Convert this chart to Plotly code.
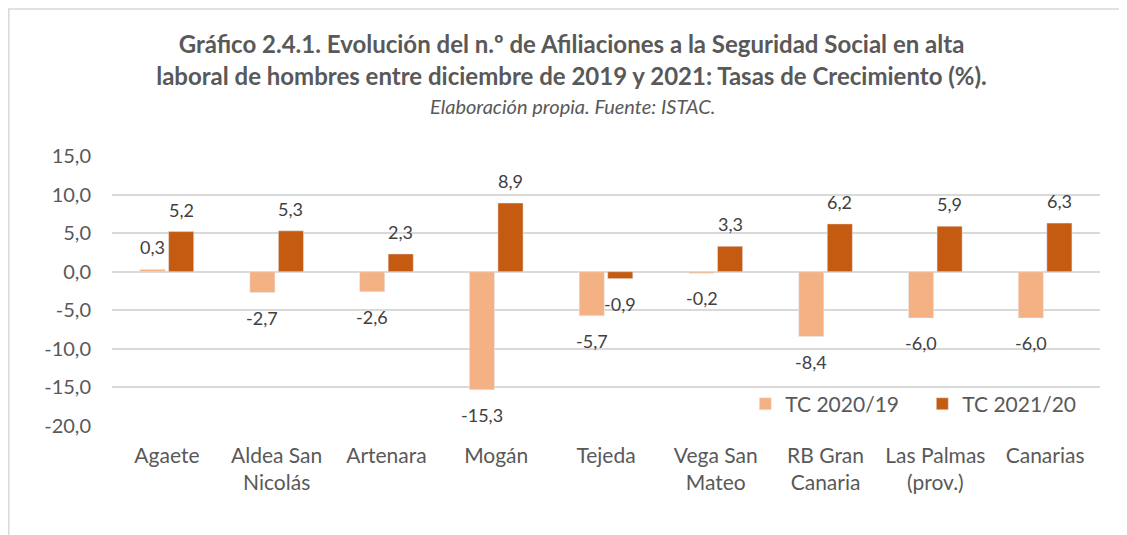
import plotly.graph_objects as go

# ---- DATA ----
municipios = ["Agaete", "Aldea San<br>Nicolás", "Artenara", "Mogán", "Tejeda",
              "Vega San<br>Mateo", "RB Gran<br>Canaria", "Las Palmas<br>(prov.)", "Canarias"]
tc_2020_19 = [0.3, -2.7, -2.6, -15.3, -5.7, -0.2, -8.4, -6.0, -6.0]
tc_2021_20 = [5.2, 5.3, 2.3, 8.9, -0.9, 3.3, 6.2, 5.9, 6.3]
y_ticks = [15, 10, 5, 0, -5, -10, -15, -20]

LIGHT = "#F4B183"
DARK = "#C55A11"
GREY = "#595959"
FONT = "Lato"

# ---- LAYOUT CONSTANTS ----
W, H = 1127, 535
L, R, T, B = 104, 35, 148, 117
BARGAP, GROUPGAP = 0.48, 0.12
plot_w = W - L - R
slot = plot_w / len(municipios) * (1 - BARGAP) / 2   # width of one bar slot (px)


def fmt(v):
    # Spanish decimal comma, plain hyphen for negatives (as in Excel)
    return f"{v:.1f}".replace(".", ",")


fig = go.Figure()
for vals, name, color in [(tc_2020_19, "TC 2020/19", LIGHT), (tc_2021_20, "TC 2021/20", DARK)]:
    fig.add_trace(go.Bar(x=municipios, y=vals, name=name, marker=dict(color=color)))

# Data labels placed a little away from the bar ends, like Excel does
labels = []
for vals, side in [(tc_2020_19, -1), (tc_2021_20, 1)]:
    for cat, v in zip(municipios, vals):
        labels.append(dict(
            x=cat, y=v, text=fmt(v), showarrow=False,
            xshift=side * slot / 2, yshift=22 if v >= 0 else -25,
            xanchor="center", yanchor="middle",
            font=dict(size=18, color="#404040", family=FONT),
        ))

labels.append(dict(
    text="<i>Elaboración propia. Fuente: ISTAC.</i>",
    xref="paper", yref="paper", x=0.466, y=1.186,
    xanchor="center", yanchor="middle", showarrow=False,
    font=dict(size=20, color=GREY, family=FONT),
))

fig.update_layout(
    width=W, height=H,
    margin=dict(l=L, r=R, t=T, b=B, autoexpand=False),
    paper_bgcolor="white", plot_bgcolor="white",
    barmode="group", bargap=BARGAP, bargroupgap=GROUPGAP,
    font=dict(family=FONT, color=GREY),
    title=dict(
        text="<b>Gráfico 2.4.1. Evolución del n.º de Afiliaciones a la Seguridad Social en alta<br>"
             "laboral de hombres entre diciembre de 2019 y 2021: Tasas de Crecimiento (%).</b>",
        x=0.5, xanchor="center", xref="container",
        y=0.915, yanchor="middle", yref="container",
        font=dict(size=24, color=GREY, family=FONT),
    ),
    annotations=labels,
    legend=dict(
        orientation="h", x=0.641, y=0.081, xanchor="left", yanchor="middle",
        font=dict(size=21, color=GREY, family=FONT),
        bgcolor="rgba(0,0,0,0)", traceorder="normal",
        itemwidth=30, entrywidth=132,
    ),
    xaxis=dict(
        showgrid=False, showline=False, ticks="", ticklabelstandoff=15,
        tickfont=dict(size=21, color=GREY, family=FONT),
    ),
    yaxis=dict(
        range=[-20, 15], tickvals=y_ticks, ticktext=[fmt(v) for v in y_ticks],
        showgrid=True, gridcolor="#D9D9D9", gridwidth=1.5,
        zeroline=True, zerolinecolor="#D9D9D9", zerolinewidth=1.5,
        showline=False, ticks="", ticklabelstandoff=20,
        tickfont=dict(size=20, color=GREY, family=FONT),
    ),
    shapes=[dict(
        type="rect", xref="paper", yref="paper",
        x0=-0.1045, x1=1.1, y0=-0.6, y1=1.544,
        line=dict(color="#D9D9D9", width=1.5), layer="below",
    )],
)

fig.write_html("out.html")
